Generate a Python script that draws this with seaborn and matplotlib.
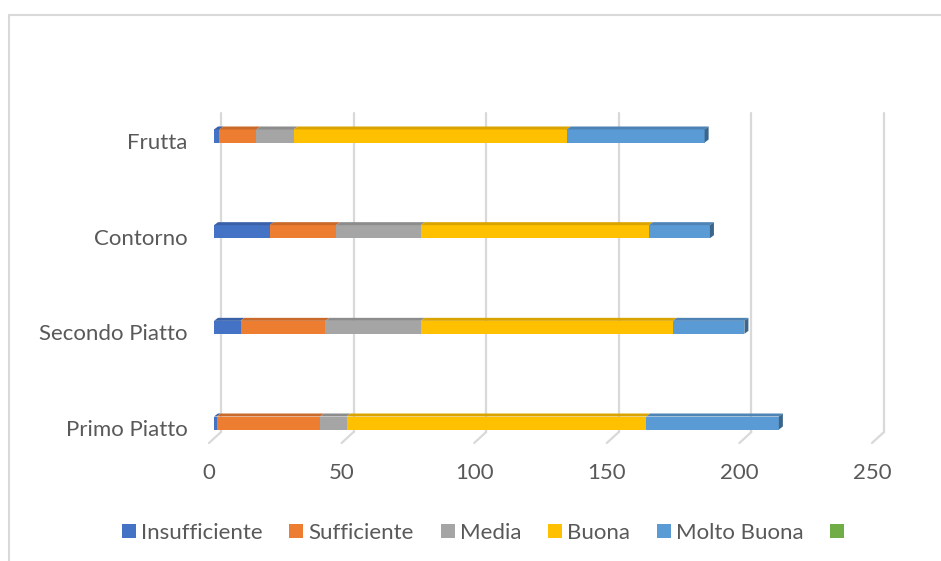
import matplotlib
matplotlib.use('Agg')
import numpy as np
import pandas as pd
import matplotlib.pyplot as plt
import matplotlib.colors as mcolors
import seaborn as sns
from matplotlib.patches import Patch, Polygon, Rectangle
from matplotlib.transforms import ScaledTranslation

# Data
categories = ['Frutta', 'Contorno', 'Secondo Piatto', 'Primo Piatto']
series_names = ['Insufficiente', 'Sufficiente', 'Media', 'Buona', 'Molto Buona']
insufficiente = [2, 21, 10, 1]
sufficiente = [14, 25, 32, 39]
media = [14, 32, 36, 10]
buona = [103, 86, 95, 113]
molto_buona = [52, 23, 27, 50]
x_ticks = [0, 50, 100, 150, 200, 250]

colors = ['#4472C4', '#ED7D31', '#A5A5A5', '#FFC000', '#5B9BD5']
extra_color = '#70AD47'
text_color = '#595959'
grid_color = '#D9D9D9'


def darker(c, f=0.78):
    r, g, b = mcolors.to_rgb(c)
    return (r * f, g * f, b * f)


sns.set_theme(style='white')
plt.rcParams['font.family'] = ['Lato', 'DejaVu Sans']

W, H = 941, 561
fig = plt.figure(figsize=(W / 100, H / 100), dpi=100)
ax_left, ax_top, ax_bottom = 214, 113, 443
ax_w = 663
ax = fig.add_axes([ax_left / W, 1 - ax_bottom / H, ax_w / W, (ax_bottom - ax_top) / H])
ppu = ax_w / 250.0  # pixels per unit on x

df = pd.DataFrame({'categoria': categories, 'Insufficiente': insufficiente,
                   'Sufficiente': sufficiente, 'Media': media,
                   'Buona': buona, 'Molto Buona': molto_buona})
cum = df[series_names].cumsum(axis=1)

bar_h = 0.136
dy = 3 / 95.67
dx = 4 / ppu

# stacked bars: draw cumulative totals longest first
for name, color in reversed(list(zip(series_names, colors))):
    sns.barplot(x=cum[name], y=df['categoria'], color=color, width=bar_h,
                orient='h', ax=ax, saturation=1, zorder=3, linewidth=0)

# 3D top faces and right-end side face
for i in range(len(categories)):
    for j, name in enumerate(series_names):
        right = cum[name].iloc[i]
        left = right - df[name].iloc[i]
        top = i - bar_h / 2
        ax.add_patch(Polygon([(left, top), (right, top), (right + dx, top - dy), (left + dx, top - dy)],
                             closed=True, facecolor=darker(colors[j], 0.85), edgecolor='none', zorder=4))
    end = cum[series_names[-1]].iloc[i]
    top = i - bar_h / 2
    ax.add_patch(Polygon([(end, top), (end + dx, top - dy), (end + dx, top + bar_h - dy), (end, top + bar_h)],
                         closed=True, facecolor=darker(colors[-1], 0.65), edgecolor='none', zorder=4))

ax.set_xlim(0, 250)
ax.set_ylim((ax_bottom - 136) / 95.67, (ax_top - 136) / 95.67)

# back-plane gridlines with diagonal floor ticks
trans = ax.get_xaxis_transform()
y_floor = (ax_bottom - 432) / (ax_bottom - ax_top)
for t in x_ticks:
    bx = t + 7 / ppu
    fx = t - 5 / ppu
    ax.plot([bx, bx], [y_floor, 1], transform=trans, color=grid_color, lw=1.6, zorder=1, clip_on=False)
    ax.plot([bx, fx], [y_floor, 0], transform=trans, color=grid_color, lw=1.6, zorder=1, clip_on=False)

for s in ax.spines.values():
    s.set_visible(False)
ax.grid(False)
ax.set_xlabel('')
ax.set_ylabel('')
ax.set_xticks(x_ticks)
ax.set_xticklabels([str(t) for t in x_ticks])
ax.tick_params(axis='x', length=0, pad=14.5, labelsize=16, labelcolor=text_color)
ax.tick_params(axis='y', length=0, pad=19, labelsize=16, labelcolor=text_color)
for lab in ax.get_xticklabels():
    lab.set_transform(lab.get_transform() + ScaledTranslation(-5 / 100, 0, fig.dpi_scale_trans))
for lab in ax.get_yticklabels():
    lab.set_transform(lab.get_transform() + ScaledTranslation(0, -5 / 100, fig.dpi_scale_trans))

# legend with the unlabeled sixth series
handles = [Patch(facecolor=c, edgecolor='none') for c in colors] + [Patch(facecolor=extra_color, edgecolor='none')]
labels = series_names + ['']
fig.legend(handles, labels, loc='center', bbox_to_anchor=(0.516, 1 - 533 / H), ncol=6,
           frameon=False, handlelength=0.63, handleheight=0.63, handletextpad=0.23,
           columnspacing=1.2, fontsize=16, labelcolor=text_color)

# chart area border
fig.patches.append(Rectangle((9 / W, -0.1), 1.2, 1 - 15 / H + 0.1, transform=fig.transFigure,
                             facecolor='none', edgecolor=grid_color, lw=1.5))

fig.savefig('out.png', dpi=100)
